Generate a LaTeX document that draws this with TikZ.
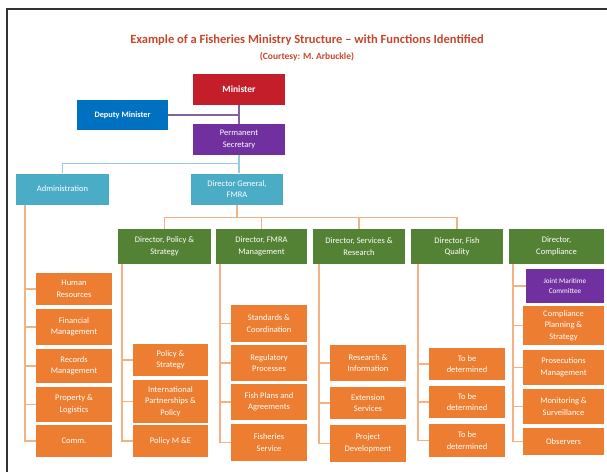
\documentclass[tikz,border=0pt]{standalone}
\usepackage{fontspec}
\setmainfont{Carlito}
\usepackage{tikz}
\usetikzlibrary{calc}

\definecolor{TitleRed}{HTML}{C6452B}
\definecolor{MinRed}{HTML}{C41E2A}
\definecolor{DepBlue}{HTML}{0070C0}
\definecolor{SecPurple}{HTML}{7030A0}
\definecolor{AdmTeal}{HTML}{4BACC6}
\definecolor{DirGreen}{HTML}{548235}
\definecolor{UnitOrange}{HTML}{ED7D31}
\definecolor{LinePeach}{HTML}{F4B183}
\definecolor{LineTeal}{HTML}{92CDDC}
\definecolor{LinePurple}{HTML}{8064A2}

\tikzset{
    box/.style={text=white, align=center, inner sep=1pt, font=\fontsize{8.5}{11.5}\selectfont},
    topbox/.style={box, minimum width=92, minimum height=31},
    dirbox/.style={box, fill=DirGreen, minimum height=35},
    unitbox/.style={box, fill=UnitOrange, minimum width=76},
    peach/.style={draw=LinePeach, line width=1.4pt},
}

\begin{document}
\begin{tikzpicture}[x=1pt, y=-1pt]

        \useasboundingbox (0,0) rectangle (607,472);

        % frame
        \draw[line width=2pt, black!80] (7,472) -- (7,9) -- (607,9);

        \node[font=\fontsize{12.5}{14}\selectfont\bfseries, text=TitleRed] (title) at (307,40) {Example of a Fisheries Ministry Structure -- with Functions Identified};
        \node[font=\fontsize{9.5}{11}\selectfont\bfseries, text=TitleRed] (courtesy) at (307,56.5) {(Courtesy: M. Arbuckle)};

        % top of the ministry
        \node[topbox, fill=MinRed, font=\fontsize{9.5}{11}\selectfont\bfseries] (minister) at (239,89.5) {Minister};
        \node[topbox, fill=DepBlue, minimum width=91, minimum height=30, font=\fontsize{8.3}{10}\selectfont\bfseries] (deputy) at (122.5,115) {Deputy Minister};
        \node[topbox, fill=SecPurple] (permsec) at (239,139.5) {Permanent\\Secretary};

        \draw[LinePurple, line width=1.4pt] (minister.south) -- (permsec.north);
        \draw[LinePurple, line width=1.4pt] (deputy.east) -- (deputy.east -| minister.south);

        \node[topbox, fill=AdmTeal, minimum width=93] (admin) at (62.5,189) {Administration};
        \node[topbox, fill=AdmTeal] (dirgen) at (237,189) {Director General,\\FMRA};

        \draw[LineTeal, line width=1.4pt] (permsec.south) -- ++(0,8) -| (admin.north);
        \draw[LineTeal, line width=1.4pt] (permsec.south) -- (permsec.south |- dirgen.north);

        % directors
        \node[dirbox, minimum width=93] (policy) at (164.5,246.5) {Director, Policy \&\\Strategy};
        \node[dirbox, minimum width=91] (fmra) at (261.5,246.5) {Director, FMRA\\Management};
        \node[dirbox, minimum width=92] (services) at (359,246.5) {Director, Services \&\\Research};
        \node[dirbox, minimum width=92] (fishq) at (457,246.5) {Director, Fish\\Quality};
        \node[dirbox, minimum width=95] (compl) at (556.5,246.5) {Director,\\Compliance};

        \draw[peach] (dirgen.south) -- ++(0,13) coordinate (bus);
        \foreach \d in {policy,fmra,services,fishq}
            \draw[peach] (bus) -| (\d.north);

        % administration units
        \node[unitbox, minimum height=32] (hr) at (74,289) {Human\\Resources};
        \node[unitbox, minimum height=36] (finance) at (74,327) {Financial\\Management};
        \node[unitbox, minimum height=34] (records) at (74,366) {Records\\Management};
        \node[unitbox, minimum height=35] (property) at (74,404.5) {Property \&\\Logistics};
        \node[unitbox, minimum height=32] (comm) at (74,441) {Comm.};

        \foreach \u in {hr,finance,records,property,comm}
            \draw[peach] ([xshift=9]admin.south west) |- (\u.west);

        % policy units
        \node[unitbox, minimum width=75, minimum height=32] (polstrat) at (170.5,360) {Policy \&\\Strategy};
        \node[unitbox, minimum width=75, minimum height=43] (intpart) at (170.5,401.5) {International\\Partnerships \&\\Policy};
        \node[unitbox, minimum width=75, minimum height=32] (polme) at (170.5,441) {Policy M \&E};

        \foreach \u in {polstrat,intpart,polme}
            \draw[peach] ([xshift=4]policy.south west) |- (\u.west);

        % fmra units
        \node[unitbox, minimum height=37] (standards) at (269,323.5) {Standards \&\\Coordination};
        \node[unitbox, minimum height=36] (regproc) at (269,363) {Regulatory\\Processes};
        \node[unitbox, minimum height=36] (fishplans) at (269,402) {Fish Plans and\\Agreements};
        \node[unitbox, minimum height=37] (fishserv) at (269,442.5) {Fisheries\\Service};

        \foreach \u in {standards,regproc,fishplans,fishserv}
            \draw[peach] ([xshift=4]fmra.south west) |- (\u.west);

        % services units
        \node[unitbox, minimum height=36] (research) at (368,363) {Research \&\\Information};
        \node[unitbox, minimum height=32] (extension) at (368,403) {Extension\\Services};
        \node[unitbox, minimum height=37] (projdev) at (368,443.5) {Project\\Development};

        \foreach \u in {research,extension,projdev}
            \draw[peach] ([xshift=6]services.south west) |- (\u.west);

        % fish quality units
        \node[unitbox, minimum height=32] (tbda) at (467,364) {To be\\determined};
        \node[unitbox, minimum height=32] (tbdb) at (467,402) {To be\\determined};
        \node[unitbox, minimum height=33] (tbdc) at (467,440.5) {To be\\determined};

        \foreach \u in {tbda,tbdb,tbdc}
            \draw[peach] ([xshift=7]fishq.south west) |- (\u.west);

        % compliance units
        \node[box, fill=SecPurple, minimum width=78, minimum height=34, font=\fontsize{7.2}{9.5}\selectfont] (jmc) at (565,286) {Joint Maritime\\Committee};
        \node[unitbox, minimum width=81, minimum height=39] (complan) at (563.5,325.5) {Compliance\\Planning \&\\Strategy};
        \node[unitbox, minimum width=81, minimum height=35] (prosec) at (563.5,367.5) {Prosecutions\\Management};
        \node[unitbox, minimum width=81, minimum height=35] (monitor) at (563.5,406.5) {Monitoring \&\\Surveillance};
        \node[unitbox, minimum width=81, minimum height=27] (observers) at (563.5,441.5) {Observers};

        \foreach \u in {jmc,complan,prosec,monitor,observers}
            \draw[peach] ([xshift=4]compl.south west) |- (\u.west);

    \end{tikzpicture}
\end{document}
